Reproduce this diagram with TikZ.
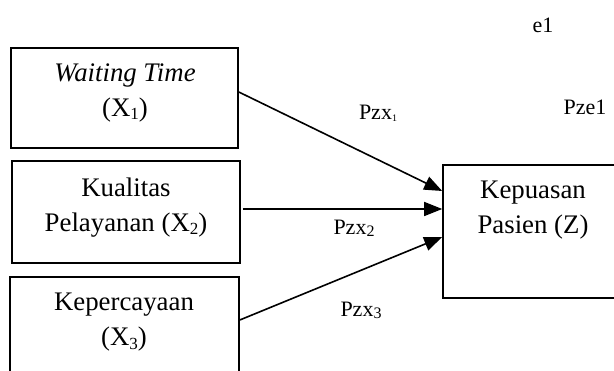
\documentclass[tikz,border=0pt]{standalone}
\usepackage{fontspec}
\setmainfont{Liberation Serif}
\usetikzlibrary{arrows.meta}
\newcommand{\mysub}[1]{\raisebox{-0.12em}{\fontsize{17}{17}\selectfont #1}}
\begin{document}
\begin{tikzpicture}[x=1pt,y=-1pt,
  box/.style={draw,line width=1.6pt,inner sep=0pt},
  boxtext/.style={align=center,font=\fontsize{26.8}{35}\selectfont,inner sep=0pt},
  lbl/.style={font=\fontsize{22}{25}\selectfont,inner sep=0pt},
  arr/.style={line width=1.6pt,-{Triangle[length=18pt,width=14pt]}}]
\useasboundingbox (0,0) rectangle (614,371);
\clip (0,0) rectangle (614,371);
% boxes
\node[box,minimum width=227pt,minimum height=100pt] (b1) at (124.5,98) {};
\node[box,minimum width=228pt,minimum height=102pt] (b2) at (126,212) {};
\node[box,minimum width=229pt,minimum height=100pt] (b3) at (124.5,327) {};
\node[box,minimum width=200pt,minimum height=133pt] (z) at (543,231.5) {};
% box texts
\node[boxtext] (t1) at (125,92.5) {\textit{Waiting Time}\\(X\mysub{1})};
\node[boxtext] (t2) at (126,207.5) {Kualitas\\Pelayanan (X\mysub{2})};
\node[boxtext] (t3) at (124,322.5) {Kepercayaan\\(X\mysub{3})};
\node[boxtext] (tz) at (533,210.5) {Kepuasan\\Pasien (Z)};
% arrows
\draw[arr] ([yshift=6pt]b1.east) -- ([yshift=40.5pt]z.west);
\draw[arr] ([xshift=2pt,yshift=3pt]b2.east) -- ([yshift=22.5pt]z.west);
\draw[arr] ([yshift=7pt]b3.east) -- ([yshift=-5.5pt]z.west);
% labels
\node[lbl] (p1) at (378,113) {Pzx\raisebox{-0.1em}{\fontsize{10}{10}\selectfont 1}};
\node[lbl] (p2) at (354,228) {Pzx\raisebox{-0.1em}{\fontsize{16}{16}\selectfont 2}};
\node[lbl] (p3) at (361,310) {Pzx\raisebox{-0.1em}{\fontsize{16}{16}\selectfont 3}};
\node[lbl] (pe) at (585,107) {Pze1};
\node[lbl] (e1) at (543,25) {e1};
\end{tikzpicture}
\end{document}
